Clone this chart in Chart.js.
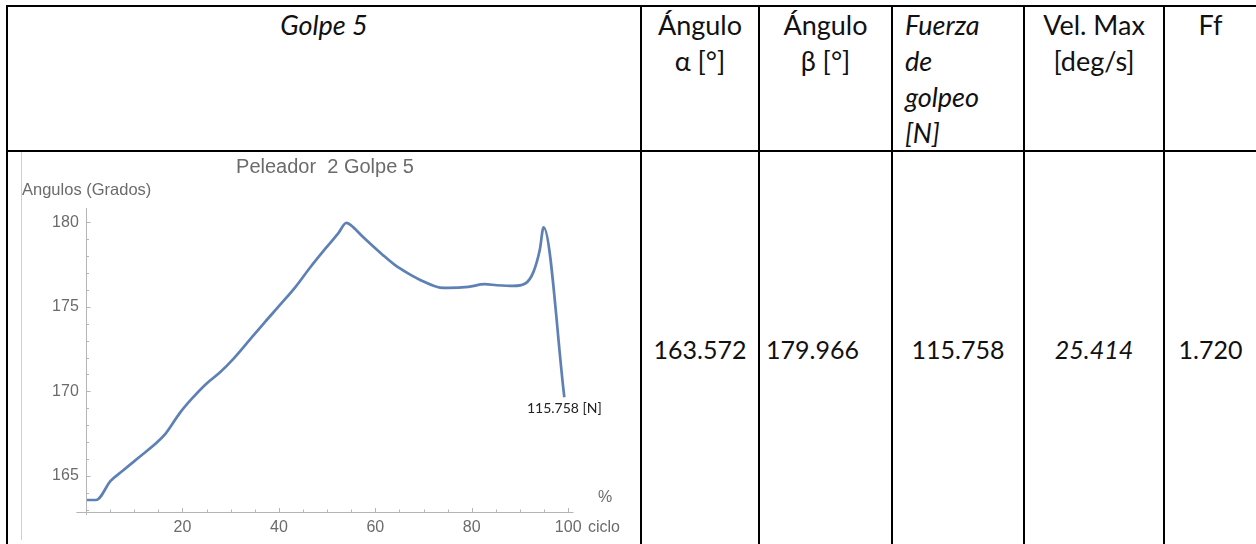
<!DOCTYPE html>
<html lang="es">
<head>
    <meta charset="UTF-8">
    <title>Peleador 2 Golpe 5</title>
    <script src="https://cdn.jsdelivr.net/npm/chart.js@4.4.0/dist/chart.umd.min.js"></script>
    <style>
        html, body { margin: 0; padding: 0; background: #fff; }
        body { width: 1256px; height: 544px; position: relative; overflow: hidden; font-family: Lato, "Open Sans", sans-serif; color: #111; }
        .line { position: absolute; background: #000; }
        .cell { position: absolute; line-height: 36px; font-size: 27px; white-space: nowrap; }
        .center { text-align: center; }
        .val { position: absolute; top: 331px; line-height: 36px; font-size: 25px; white-space: nowrap; }
        .it { font-style: italic; }
        #chart-box { position: absolute; left: 8px; top: 152px; width: 632px; height: 392px; }
        .img-edge { position: absolute; left: 21px; top: 152px; width: 1px; height: 388px; background: #cfcfcf; }
    </style>
</head>
<body>
    <!-- Bordes de la tabla -->
    <div class="line" style="left:6px; top:5px; width:1250px; height:2px;"></div>
    <div class="line" style="left:6px; top:150px; width:1250px; height:2px;"></div>
    <div class="line" style="left:6px; top:5px; width:2px; height:539px;"></div>
    <div class="line" style="left:640px; top:5px; width:2px; height:539px;"></div>
    <div class="line" style="left:758px; top:5px; width:2px; height:539px;"></div>
    <div class="line" style="left:891px; top:5px; width:2px; height:539px;"></div>
    <div class="line" style="left:1023px; top:5px; width:2px; height:539px;"></div>
    <div class="line" style="left:1163px; top:5px; width:2px; height:539px;"></div>

    <!-- Encabezados -->
    <div class="cell center it" style="left:8px; top:7px; width:632px;">Golpe 5</div>
    <div class="cell center" style="left:642px; top:7px; width:116px;">Ángulo<br>α [°]</div>
    <div class="cell center" style="left:760px; top:7px; width:131px;">Ángulo<br>β [°]</div>
    <div class="cell it" style="left:905px; top:7px;">Fuerza<br>de<br>golpeo<br>[N]</div>
    <div class="cell center" style="left:1025px; top:7px; width:138px;">Vel. Max<br>[deg/s]</div>
    <div class="cell center" style="left:1165px; top:7px; width:91px;">Ff</div>

    <!-- Valores -->
    <div class="val center" style="left:642px; width:116px;">163.572</div>
    <div class="val" style="left:766px;">179.966</div>
    <div class="val center" style="left:893px; width:130px;">115.758</div>
    <div class="val center it" style="left:1025px; width:138px;">25.414</div>
    <div class="val center" style="left:1165px; width:91px;">1.720</div>

    <!-- Grafico -->
    <div class="img-edge"></div>
    <div id="chart-box"><canvas id="golpe-chart"></canvas></div>

    <script>
        // datos (% ciclo vs angulo)
        const ciclo = [0, 2.1, 5.1, 7.6, 11, 14.8, 16.5, 19.4, 21.9, 24.9, 27.8, 30.8, 33.8, 37.1, 40.5, 43.5, 46.4, 49.8, 52.3, 54.0, 54.9, 57.4, 61.6, 64.1, 66.7, 70, 73.4, 75.1, 79.3, 82.7, 85.2, 88.6, 91.1, 92.8, 94.1, 94.9, 99.2];
        const angulo = [163.57, 163.57, 164.7, 165.3, 166.1, 167.0, 167.5, 168.7, 169.55, 170.44, 171.13, 172.0, 173.0, 174.1, 175.2, 176.2, 177.3, 178.5, 179.35, 179.97, 179.84, 179.15, 178.06, 177.47, 177.0, 176.5, 176.14, 176.12, 176.18, 176.34, 176.28, 176.24, 176.38, 177.07, 178.36, 179.70, 169.65];
        const xTicks = [20, 40, 60, 80, 100];
        const yTicks = [165, 170, 175, 180];
        const fuerzaLabel = '115.758 [N]';

        const gray = '#6b6b6b';
        const axisColor = '#b5b5b5';

        // ejes estilo Mathematica: lineas y marcas hacia adentro
        const axesPlugin = {
            id: 'axesPlugin',
            afterDraw(chart) {
                const ctx = chart.ctx;
                const xs = chart.scales.x, ys = chart.scales.y;
                const area = chart.chartArea;
                const x0 = Math.round(xs.getPixelForValue(0)) + 0.5;
                ctx.save();
                ctx.strokeStyle = axisColor;
                ctx.lineWidth = 1;
                ctx.beginPath();
                ctx.moveTo(xs.getPixelForValue(-2), area.bottom + 0.5);
                ctx.lineTo(area.right, area.bottom + 0.5);
                ctx.moveTo(x0, area.top);
                ctx.lineTo(x0, area.bottom + 3);
                // marcas eje x
                for (let v = 5; v <= 100; v += 5) {
                    const px = Math.round(xs.getPixelForValue(v)) + 0.5;
                    const len = xTicks.includes(v) ? 4 : 2.5;
                    ctx.moveTo(px, area.bottom);
                    ctx.lineTo(px, area.bottom - len);
                }
                // marcas eje y
                for (let v = 163; v <= 180; v++) {
                    const py = Math.round(ys.getPixelForValue(v)) + 0.5;
                    const len = yTicks.includes(v) ? 4 : 2.5;
                    ctx.moveTo(x0, py);
                    ctx.lineTo(x0 + len, py);
                }
                ctx.stroke();

                // textos
                ctx.fillStyle = gray;
                ctx.textBaseline = 'middle';
                ctx.textAlign = 'center';
                ctx.font = '20px "Liberation Sans", Arial, sans-serif';
                ctx.fillText('Peleador  2 Golpe 5', 317, 15);
                ctx.textAlign = 'left';
                ctx.font = '16.5px "Liberation Sans", Arial, sans-serif';
                ctx.fillText('Angulos (Grados)', 14, 38);
                ctx.font = '16px "Liberation Sans", Arial, sans-serif';
                ctx.fillText('%', 590, 346);
                ctx.fillText('ciclo', 580, 376);

                // etiqueta del ultimo punto
                const last = ciclo.length - 1;
                ctx.fillStyle = '#222';
                ctx.textAlign = 'center';
                ctx.font = '14px Lato, sans-serif';
                ctx.fillText(fuerzaLabel, xs.getPixelForValue(ciclo[last]), ys.getPixelForValue(angulo[last]) + 11);
                ctx.restore();
            }
        };

        const ctx = document.getElementById('golpe-chart').getContext('2d');
        new Chart(ctx, {
            type: 'line',
            data: {
                datasets: [{
                    label: 'Peleador 2 Golpe 5',
                    data: ciclo.map((c, i) => ({ x: c, y: angulo[i] })),
                    borderColor: '#5e81b5',
                    borderWidth: 2.7,
                    pointRadius: 0,
                    fill: false,
                    cubicInterpolationMode: 'monotone'
                }]
            },
            options: {
                responsive: true,
                maintainAspectRatio: false,
                animation: false,
                layout: { padding: { top: 56, right: 66.5, bottom: 0, left: 0 } },
                plugins: {
                    legend: { display: false },
                    tooltip: { enabled: false }
                },
                scales: {
                    x: {
                        type: 'linear',
                        min: -1.5,
                        max: 101.1,
                        grid: { display: false, drawTicks: false },
                        border: { display: false },
                        afterBuildTicks: s => { s.ticks = xTicks.map(v => ({ value: v })); },
                        afterFit: s => { s.height = 32; },
                        ticks: {
                            padding: 6,
                            color: gray,
                            font: { family: '"Liberation Sans", Arial, sans-serif', size: 16 },
                            maxRotation: 0,
                            autoSkip: false
                        }
                    },
                    y: {
                        min: 162.86,
                        max: 180.85,
                        grid: { display: false, drawTicks: false },
                        border: { display: false },
                        afterBuildTicks: s => { s.ticks = yTicks.map(v => ({ value: v })); },
                        afterFit: s => { s.width = 70.8; },
                        ticks: {
                            padding: 0,
                            color: gray,
                            font: { family: '"Liberation Sans", Arial, sans-serif', size: 16 },
                            autoSkip: false
                        }
                    }
                }
            },
            plugins: [axesPlugin]
        });
    </script>
</body>
</html>
